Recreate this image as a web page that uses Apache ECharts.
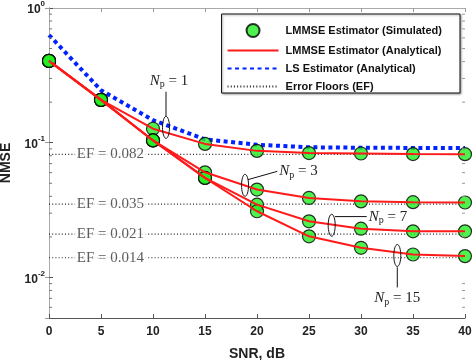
<!DOCTYPE html>
<html>
<head>
<meta charset="utf-8">
<script src="https://cdn.jsdelivr.net/npm/echarts@6/dist/echarts.min.js"></script>
<style>
  html, body { margin: 0; padding: 0; background: #fff; }
  #chart { width: 473px; height: 360px; }
</style>
</head>
<body>
<div id="chart"></div>
<script>
// SNR in dB
var snr = [0, 5, 10, 15, 20, 25, 30, 35, 40];

// LMMSE NMSE for the different pilot counts
var lmmseNp1  = [0.405, 0.208, 0.127, 0.098, 0.087, 0.0838, 0.0832, 0.0824, 0.0822];
var lmmseNp3  = [0.405, 0.208, 0.104, 0.0603, 0.0449, 0.0389, 0.0367, 0.0362, 0.0360];
var lmmseNp7  = [0.405, 0.208, 0.104, 0.0548, 0.0347, 0.0261, 0.0230, 0.0220, 0.0220];
var lmmseNp15 = [0.405, 0.208, 0.104, 0.0548, 0.0310, 0.0202, 0.0166, 0.0148, 0.0144];

// LS estimator (analytical)
var lsNmse = [0.63, 0.245, 0.147, 0.106, 0.0966, 0.0925, 0.0918, 0.0915, 0.0914];

// error floors
var errorFloors = [0.082, 0.035, 0.021, 0.014];
var floorLabelSnr = 5.9;

// minor ticks of the log axis
var minorTicks = [0.006, 0.007, 0.008, 0.009,
                  0.02, 0.03, 0.04, 0.05, 0.06, 0.07, 0.08, 0.09,
                  0.2, 0.3, 0.4, 0.5, 0.6, 0.7, 0.8, 0.9];

// N_p annotations: loop centre, leader start, leader end (SNR, NMSE)
var npLabels = ['1', '3', '7', '15'];
var npCenter = [[11.25, 0.130], [18.85, 0.0483], [27.18, 0.0244], [33.49, 0.01455]];
var npFrom   = [[11.25, 0.1567], [19.13, 0.0532], [27.5, 0.0283], [33.49, 0.0119]];
var npTo     = [[11.25, 0.239], [21.95, 0.0613], [30.55, 0.0283], [33.49, 0.00843]];
var npSide   = ['top', 'right', 'right', 'bottom'];

var SIM = 'LMMSE Estimator (Simulated)';
var ANA = 'LMMSE Estimator (Analytical)';
var LS = 'LS Estimator (Analytical)';
var EF = 'Error Floors (EF)';

function pairs(ys) {
    return snr.map(function (x, i) { return [x, ys[i]]; });
}

var myChart = echarts.init(document.getElementById('chart'));

var series = [];

// error floors (dotted)
errorFloors.forEach(function (v) {
    series.push({
        name: EF,
        type: 'line',
        data: [[0, v], [40, v]],
        symbol: 'none',
        silent: true,
        z: 1,
        lineStyle: { color: '#222', width: 1.2, type: [1, 2.2] }
    });
});
series.push({
    type: 'scatter',
    data: errorFloors.map(function (v) { return [floorLabelSnr, v]; }),
    symbolSize: 0,
    z: 2,
    label: {
        show: true,
        position: 'inside',
        formatter: function (p) { return 'EF = ' + p.value[1].toFixed(3); },
        fontFamily: 'Liberation Serif',
        fontSize: 15,
        color: '#333',
        backgroundColor: '#fff',
        padding: [0, 2]
    }
});

// LS estimator
series.push({
    name: LS,
    type: 'line',
    data: pairs(lsNmse),
    symbol: 'none',
    z: 3,
    lineStyle: { color: '#0022ff', width: 4, type: [4, 3.5], cap: 'butt' }
});

// LMMSE analytical + simulated
[lmmseNp1, lmmseNp3, lmmseNp7, lmmseNp15].forEach(function (ys) {
    series.push({
        name: ANA,
        type: 'line',
        data: pairs(ys),
        symbol: 'none',
        z: 4,
        lineStyle: { color: '#ff1a1a', width: 2 }
    });
});
[lmmseNp1, lmmseNp3, lmmseNp7, lmmseNp15].forEach(function (ys) {
    series.push({
        name: SIM,
        type: 'scatter',
        data: pairs(ys),
        symbol: 'circle',
        symbolSize: 13,
        z: 3,
        itemStyle: { color: '#22ee22', borderColor: '#000', borderWidth: 1.2 }
    });
});

// minor ticks on left and right
series.push({
    type: 'custom',
    silent: true,
    z: 10,
    data: minorTicks.map(function (v) { return [0, v]; }),
    renderItem: function (params, api) {
        var l = api.coord([0, api.value(1)]);
        var r = api.coord([40, api.value(1)]);
        return {
            type: 'group',
            children: [
                { type: 'line', shape: { x1: l[0], y1: l[1], x2: l[0] + 3, y2: l[1] },
                  style: { stroke: '#777', lineWidth: 1 } },
                { type: 'line', shape: { x1: r[0], y1: r[1], x2: r[0] - 3, y2: r[1] },
                  style: { stroke: '#999', lineWidth: 1 } }
            ]
        };
    }
});

// N_p loops with leader lines
series.push({
    type: 'custom',
    silent: true,
    z: 12,
    clip: false,
    data: npCenter,
    renderItem: function (params, api) {
        var i = params.dataIndex;
        var c = api.coord(npCenter[i]);
        var f = api.coord(npFrom[i]);
        var t = api.coord(npTo[i]);
        var side = npSide[i];
        var tx = t[0], ty = t[1], align = 'left', valign = 'middle';
        if (side === 'top') { tx += 3; ty -= 2; align = 'center'; valign = 'bottom'; }
        if (side === 'bottom') { ty += 2; align = 'center'; valign = 'top'; }
        if (side === 'right') { tx += 2; }
        return {
            type: 'group',
            children: [
                { type: 'ellipse', shape: { cx: c[0], cy: c[1], rx: 3.5, ry: 11 },
                  style: { fill: null, stroke: '#111', lineWidth: 1 } },
                { type: 'line', shape: { x1: f[0], y1: f[1], x2: t[0], y2: t[1] },
                  style: { stroke: '#111', lineWidth: 1 } },
                { type: 'text', x: tx, y: ty,
                  style: {
                      text: '{i|N}{s|p}{r| = ' + npLabels[i] + '}',
                      align: align, verticalAlign: valign,
                      rich: {
                          i: { fontFamily: 'Liberation Serif', fontStyle: 'italic', fontSize: 15, fill: '#222' },
                          s: { fontFamily: 'Liberation Serif', fontSize: 10, fill: '#222', padding: [8, 0, 0, 0] },
                          r: { fontFamily: 'Liberation Serif', fontSize: 15, fill: '#222' }
                      }
                  } }
            ]
        };
    }
});

var lineLegendStyle = { opacity: 0 };

var option = {
    animation: false,
    backgroundColor: '#fff',
    grid: { left: 49, right: 8, top: 8, bottom: 42, outerBoundsMode: 'none', containLabel: false },
    legend: {
        data: [
            { name: SIM },
            { name: ANA, itemStyle: lineLegendStyle },
            { name: LS, itemStyle: lineLegendStyle },
            { name: EF, itemStyle: lineLegendStyle }
        ],
        orient: 'vertical',
        right: 13,
        top: 14,
        itemWidth: 51,
        itemHeight: 13,
        itemGap: 7,
        padding: [9, 18, 1, 5],
        backgroundColor: '#fff',
        borderColor: '#111',
        borderWidth: 1,
        shadowColor: 'rgba(0,0,0,0.35)',
        shadowBlur: 2,
        shadowOffsetX: 1,
        shadowOffsetY: 1,
        textStyle: { fontFamily: 'Liberation Sans', fontWeight: 'bold', fontSize: 11, color: '#111', padding: [0, 0, 0, 2] }
    },
    xAxis: [{
        type: 'value',
        min: 0,
        max: 40,
        interval: 5,
        name: 'SNR, dB',
        nameLocation: 'middle',
        nameGap: 29,
        nameTextStyle: { fontFamily: 'Liberation Sans', fontWeight: 'bold', fontSize: 14, color: '#222' },
        splitLine: { show: false },
        axisLine: { lineStyle: { color: '#555' } },
        axisTick: { inside: true, length: 4, lineStyle: { color: '#555' } },
        axisLabel: { margin: 8, fontFamily: 'Liberation Sans', fontWeight: 'bold', fontSize: 12, color: '#222' }
    }, {
        type: 'value',
        position: 'top',
        min: 0,
        max: 40,
        interval: 5,
        splitLine: { show: false },
        axisLine: { lineStyle: { color: '#aaa' } },
        axisTick: { inside: true, length: 4, lineStyle: { color: '#999' } },
        axisLabel: { show: false }
    }],
    yAxis: [{
        type: 'log',
        logBase: 10,
        min: 0.005,
        max: 1,
        splitNumber: 2,
        name: 'NMSE',
        nameLocation: 'middle',
        nameGap: 35,
        nameTextStyle: { fontFamily: 'Liberation Sans', fontWeight: 'bold', fontSize: 14, color: '#222' },
        splitLine: { show: false },
        axisLine: { show: true, lineStyle: { color: '#555' } },
        axisTick: { inside: true, length: 4, lineStyle: { color: '#555' } },
        axisLabel: {
            margin: 4,
            formatter: function (v) {
                var e = Math.log10(v);
                if (Math.abs(e - Math.round(e)) > 1e-6) return '';
                return '{b|10}{s|' + Math.round(e) + '}';
            },
            rich: {
                b: { fontFamily: 'Liberation Sans', fontWeight: 'bold', fontSize: 12, color: '#222', lineHeight: 16, verticalAlign: 'bottom' },
                s: { fontFamily: 'Liberation Sans', fontWeight: 'bold', fontSize: 8, color: '#222', lineHeight: 16, verticalAlign: 'top', padding: [0, 0, 8, 0] }
            }
        }
    }, {
        type: 'log',
        logBase: 10,
        position: 'right',
        min: 0.005,
        max: 1,
        splitNumber: 2,
        splitLine: { show: false },
        axisLine: { show: true, lineStyle: { color: '#aaa' } },
        axisTick: { inside: true, length: 4, lineStyle: { color: '#999' } },
        axisLabel: { show: false }
    }],
    series: series
};

myChart.setOption(option);
</script>
</body>
</html>
